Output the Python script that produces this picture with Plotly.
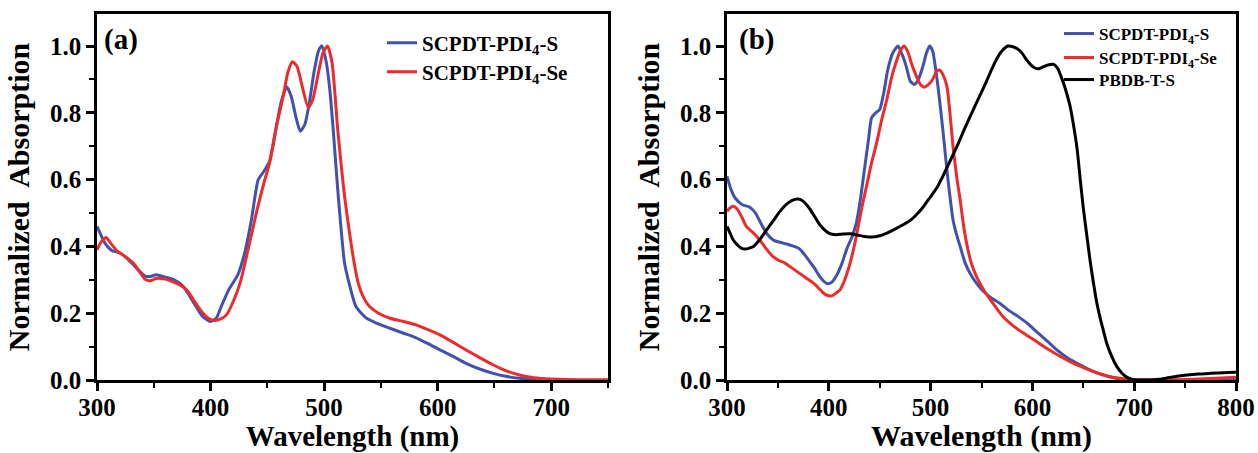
import plotly.graph_objects as go

# ---------------- Panel (a) data ----------------
wl_a_S = [300, 304, 307, 313, 320, 326, 334, 342, 347, 352, 360, 368, 376, 385, 393, 400,
          405, 410, 416, 424, 430, 436, 442, 447, 452, 457, 462, 467, 471, 475, 479, 483,
          487, 491, 495, 498, 502, 505, 508, 512, 515, 518, 522, 528, 537, 545, 558, 570,
          580, 592, 602, 614, 625, 637, 649, 660, 672, 685, 699, 725, 750]
abs_a_S = [0.46, 0.43, 0.41, 0.388, 0.381, 0.366, 0.338, 0.312, 0.31, 0.315, 0.308, 0.30,
           0.28, 0.232, 0.19, 0.175, 0.185, 0.225, 0.27, 0.315, 0.38, 0.48, 0.60, 0.625,
           0.655, 0.74, 0.83, 0.878, 0.85, 0.79, 0.745, 0.765, 0.83, 0.92, 0.985, 1.0,
           0.95, 0.87, 0.75, 0.57, 0.45, 0.35, 0.29, 0.22, 0.186, 0.172, 0.155, 0.14,
           0.128, 0.108, 0.09, 0.07, 0.05, 0.033, 0.02, 0.011, 0.005, 0.002, 0.0, 0.0, 0.0]

wl_a_Se = [300, 304, 308, 312, 318, 323, 332, 343, 348, 352, 360, 367, 373, 379, 385, 391,
           398, 404, 409, 414, 420, 426, 433, 441, 447, 452, 458, 464, 468, 472, 476, 480,
           486, 490, 495, 499, 503, 507, 512, 517, 522, 526, 530, 535, 540, 548, 558, 570,
           581, 592, 602, 614, 625, 637, 649, 660, 672, 685, 699, 725, 750]
abs_a_Se = [0.39, 0.415, 0.427, 0.41, 0.385, 0.374, 0.35, 0.30, 0.298, 0.304, 0.302, 0.294,
            0.285, 0.27, 0.24, 0.21, 0.185, 0.178, 0.183, 0.195, 0.235, 0.29, 0.39, 0.51,
            0.59, 0.65, 0.76, 0.85, 0.92, 0.953, 0.94, 0.89, 0.816, 0.84, 0.92, 0.98, 1.0,
            0.95, 0.75, 0.58, 0.45, 0.36, 0.29, 0.245, 0.22, 0.20, 0.185, 0.175, 0.165,
            0.15, 0.135, 0.112, 0.09, 0.067, 0.045, 0.028, 0.015, 0.007, 0.003, 0.0, 0.0]

# ---------------- Panel (b) data ----------------
wl_b_S = [300, 304, 308, 315, 322, 328, 334, 340, 346, 355, 363, 370, 375, 380, 386, 391,
          396, 399, 403, 408, 413, 418, 423, 427, 431, 435, 439, 442, 446, 450, 454, 458,
          463, 468, 472, 476, 480, 484, 488, 492, 496, 499, 502, 505, 508, 512, 516, 519,
          522, 526, 529, 534, 539, 545, 552, 560, 568, 576, 585, 595, 604, 614, 624, 635,
          647, 658, 670, 681, 693, 710, 730, 760, 800]
abs_b_S = [0.61, 0.57, 0.545, 0.525, 0.518, 0.50, 0.465, 0.435, 0.418, 0.41, 0.403, 0.395,
           0.38, 0.36, 0.335, 0.31, 0.293, 0.288, 0.293, 0.315, 0.35, 0.395, 0.43, 0.47,
           0.54, 0.63, 0.72, 0.785, 0.80, 0.81, 0.86, 0.93, 0.98, 1.0, 0.975, 0.94, 0.895,
           0.885, 0.90, 0.935, 0.98, 1.0, 0.985, 0.93, 0.86, 0.75, 0.63, 0.55, 0.48, 0.43,
           0.40, 0.35, 0.318, 0.29, 0.265, 0.245, 0.23, 0.21, 0.192, 0.17, 0.145, 0.118,
           0.09, 0.065, 0.045, 0.028, 0.015, 0.006, 0.0, 0.0, 0.0, 0.0, 0.002]

wl_b_Se = [300, 303, 306, 310, 315, 319, 326, 332, 338, 345, 351, 357, 364, 371, 378, 385,
           390, 394, 399, 403, 407, 411, 415, 419, 423, 427, 432, 437, 442, 447, 452, 457,
           462, 467, 471, 474, 478, 481, 486, 490, 494, 498, 502, 506, 509, 512, 516, 519,
           522, 526, 529, 533, 536, 540, 545, 552, 560, 571, 582, 594, 604, 614, 625, 637,
           648, 660, 673, 686, 700, 712, 735, 758, 780, 800]
abs_b_Se = [0.505, 0.515, 0.52, 0.512, 0.485, 0.46, 0.44, 0.42, 0.395, 0.37, 0.358, 0.35,
            0.335, 0.32, 0.305, 0.29, 0.275, 0.262, 0.253, 0.252, 0.26, 0.27, 0.295, 0.33,
            0.375, 0.43, 0.51, 0.58, 0.65, 0.71, 0.78, 0.84, 0.91, 0.96, 0.99, 1.0, 0.98,
            0.95, 0.91, 0.885, 0.877, 0.885, 0.90, 0.925, 0.928, 0.915, 0.88, 0.80, 0.70,
            0.60, 0.54, 0.45, 0.40, 0.35, 0.31, 0.27, 0.235, 0.19, 0.16, 0.135, 0.115, 0.095,
            0.075, 0.055, 0.04, 0.025, 0.012, 0.005, 0.001, 0.0, 0.0, 0.002, 0.005, 0.008]

wl_b_P = [300, 303, 306, 310, 314, 318, 322, 326, 332, 339, 345, 352, 358, 364, 370, 375,
          380, 385, 390, 395, 400, 407, 414, 421, 428, 435, 442, 450, 457, 465, 473, 480,
          486, 492, 499, 506, 512, 519, 526, 533, 539, 545, 550, 555, 560, 565, 570, 576,
          581, 586, 590, 594, 598, 602, 606, 610, 614, 618, 621, 625, 628, 631, 634, 637,
          640, 644, 647, 650, 654, 657, 660, 663, 667, 670, 673, 678, 683, 688, 693, 698,
          703, 709, 716, 724, 732, 742, 752, 763, 775, 788, 800]
abs_b_P = [0.46, 0.44, 0.42, 0.405, 0.395, 0.392, 0.395, 0.40, 0.42, 0.45, 0.475, 0.505,
           0.525, 0.538, 0.542, 0.535, 0.518, 0.495, 0.47, 0.452, 0.44, 0.435, 0.437, 0.438,
           0.434, 0.43, 0.428, 0.432, 0.44, 0.452, 0.465, 0.478, 0.495, 0.515, 0.545, 0.575,
           0.61, 0.655, 0.70, 0.75, 0.79, 0.83, 0.862, 0.895, 0.93, 0.962, 0.985, 1.0, 0.998,
           0.99, 0.978, 0.96, 0.945, 0.935, 0.932, 0.937, 0.942, 0.945, 0.945, 0.932, 0.91,
           0.885, 0.855, 0.82, 0.77, 0.69, 0.60, 0.515, 0.42, 0.35, 0.29, 0.235, 0.18, 0.145,
           0.11, 0.07, 0.04, 0.02, 0.008, 0.002, 0.0, 0.0, 0.0, 0.002, 0.006, 0.011, 0.015,
           0.018, 0.02, 0.022, 0.023]

name_S = "SCPDT-PDI<sub>4</sub>-S"
name_Se = "SCPDT-PDI<sub>4</sub>-Se"
name_P = "PBDB-T-S"

BLUE = "#4252AC"
RED = "#EC2B2B"
BLACK = "#000000"
FONT = "Liberation Serif"

fig = go.Figure()
lw = 3


def add(x, y, name, color, xa, ya, leg):
    fig.add_trace(go.Scatter(x=x, y=y, name=name, mode="lines",
                             line=dict(color=color, width=lw, shape="spline", smoothing=0.6),
                             xaxis=xa, yaxis=ya, legend=leg))


add(wl_a_S, abs_a_S, name_S, BLUE, "x", "y", "legend")
add(wl_a_Se, abs_a_Se, name_Se, RED, "x", "y", "legend3")
add(wl_b_S, abs_b_S, name_S, BLUE, "x2", "y2", "legend2")
add(wl_b_Se, abs_b_Se, name_Se, RED, "x2", "y2", "legend4")
add(wl_b_P, abs_b_P, name_P, BLACK, "x2", "y2", "legend5")

W, H = 1258, 453
ML, MR, MT, MB = 97, 22, 14, 73
PW = W - ML - MR
PH = H - MT - MB


def xax(domain, rng, title_size):
    return dict(domain=domain, range=rng, dtick=100, tick0=300, automargin=False,
                showline=True, linewidth=2.5, linecolor="black", mirror=True,
                ticks="outside", ticklen=8, tickwidth=2.5, tickcolor="black",
                ticklabelstandoff=-5,
                minor=dict(ticks="outside", ticklen=5, tickwidth=2, dtick=50, tickcolor="black"),
                showgrid=False, zeroline=False,
                tickfont=dict(family=FONT, size=25, color="black", weight="bold"),
                title=dict(text="Wavelength (nm)", standoff=12,
                           font=dict(family=FONT, size=title_size, color="black", weight="bold")))


def yax(anchor):
    return dict(domain=[0, 1], range=[0, 1.096], dtick=0.2, tick0=0, tickformat=".1f",
                anchor=anchor, automargin=False,
                showline=True, linewidth=2.5, linecolor="black", mirror=True,
                ticks="outside", ticklen=8, tickwidth=2.5, tickcolor="black",
                minor=dict(ticks="outside", ticklen=5, tickwidth=2, dtick=0.1, tickcolor="black"),
                showgrid=False, zeroline=False,
                tickfont=dict(family=FONT, size=25, color="black", weight="bold"),
                title=dict(text="Normalized  Absorption", standoff=12,
                           font=dict(family=FONT, size=30, color="black", weight="bold")))


xa = xax([0, 511 / PW], [300, 750], 29)
xa["anchor"] = "y"
xb = xax([630 / PW, 1], [300, 800], 30)
xb["anchor"] = "y2"
ya = yax("x")
yb = yax("x2")


def leg(xpx, ypx, size):
    return dict(x=(xpx - ML) / PW, y=(H - MB - ypx) / PH, xanchor="left", yanchor="middle",
                bgcolor="rgba(0,0,0,0)", tracegroupgap=0,
                font=dict(family=FONT, size=size, color="black", weight="bold"))


fig.update_layout(
    width=W, height=H,
    margin=dict(l=ML, r=MR, t=MT, b=MB),
    paper_bgcolor="white", plot_bgcolor="white",
    xaxis=xa, yaxis=ya, xaxis2=xb, yaxis2=yb,
    showlegend=True,
    legend=leg(382, 43, 21),
    legend3=leg(382, 72, 21),
    legend2=leg(1059, 34, 17),
    legend4=leg(1059, 58, 17),
    legend5=leg(1059, 80, 17),
    annotations=[
        dict(text="(a)", xref="x domain", yref="y domain", x=0.01, y=0.93,
             xanchor="left", yanchor="middle", showarrow=False,
             font=dict(family=FONT, size=29, color="black", weight="bold")),
        dict(text="(b)", xref="x2 domain", yref="y2 domain", x=0.02, y=0.93,
             xanchor="left", yanchor="middle", showarrow=False,
             font=dict(family=FONT, size=29, color="black", weight="bold")),
    ],
)

fig.write_html("out.html", config={"displayModeBar": False},
               post_script="document.body.style.margin='0';document.body.style.overflow='hidden';")
